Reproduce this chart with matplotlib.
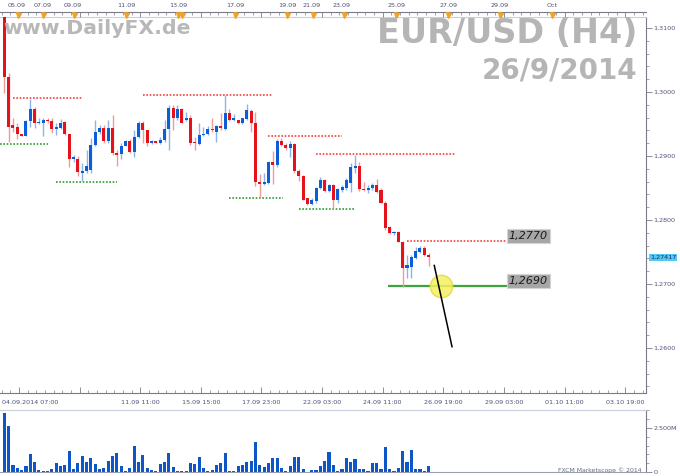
import numpy as np
import matplotlib
matplotlib.use("Agg")
import matplotlib.pyplot as plt

# EUR/USD H4 candles, 04.09.2014 07:00 .. 26.09.2014
opens = [1.3135, 1.3024, 1.2948, 1.2945, 1.2934, 1.2932, 1.2954, 1.2974, 1.2951, 1.2951,
         1.2956, 1.2954, 1.2942, 1.2943, 1.2953, 1.2934, 1.2895, 1.2896, 1.2874, 1.2876,
         1.2878, 1.2917, 1.2938, 1.2943, 1.2923, 1.2943, 1.2905, 1.2903, 1.2916, 1.2924,
         1.2907, 1.2929, 1.2952, 1.2941, 1.2920, 1.2923, 1.2921, 1.2925, 1.2942, 1.2975,
         1.2959, 1.2973, 1.2956, 1.2959, 1.2922, 1.2919, 1.2933, 1.2934, 1.2942, 1.2938,
         1.2947, 1.2942, 1.2967, 1.2956, 1.2956, 1.2951, 1.2958, 1.2971, 1.2952, 1.2860,
         1.2856, 1.2858, 1.2890, 1.2886, 1.2924, 1.2917, 1.2912, 1.2919, 1.2877, 1.2869,
         1.2834, 1.2825, 1.2829, 1.2850, 1.2863, 1.2846, 1.2855, 1.2832, 1.2847, 1.2850,
         1.2858, 1.2882, 1.2884, 1.2849, 1.2847, 1.2850, 1.2855, 1.2847, 1.2827, 1.2789,
         1.2779, 1.2782, 1.2766, 1.2725, 1.2727, 1.2740, 1.2750, 1.2757, 1.2745]
highs = [1.3145, 1.3030, 1.2959, 1.2952, 1.2935, 1.2956, 1.2989, 1.2977, 1.2960, 1.2960,
         1.2959, 1.2959, 1.2951, 1.2958, 1.2954, 1.2934, 1.2901, 1.2900, 1.2889, 1.2909,
         1.2928, 1.2957, 1.2948, 1.2948, 1.2957, 1.2964, 1.2909, 1.2920, 1.2925, 1.2926,
         1.2940, 1.2954, 1.2954, 1.2941, 1.2925, 1.2924, 1.2930, 1.2956, 1.2980, 1.2980,
         1.2980, 1.2975, 1.2969, 1.2964, 1.2929, 1.2952, 1.2946, 1.2947, 1.2960, 1.2948,
         1.2967, 1.2995, 1.2973, 1.2966, 1.2957, 1.2960, 1.2982, 1.2973, 1.2969, 1.2872,
         1.2873, 1.2891, 1.2908, 1.2926, 1.2928, 1.2921, 1.2924, 1.2920, 1.2879, 1.2870,
         1.2835, 1.2834, 1.2851, 1.2867, 1.2864, 1.2857, 1.2856, 1.2850, 1.2855, 1.2865,
         1.2889, 1.2902, 1.2891, 1.2860, 1.2855, 1.2858, 1.2864, 1.2850, 1.2829, 1.2790,
         1.2783, 1.2783, 1.2767, 1.2745, 1.2745, 1.2758, 1.2759, 1.2759, 1.2748]
lows = [1.2998, 1.2922, 1.2938, 1.2926, 1.2931, 1.2931, 1.2945, 1.2944, 1.2950, 1.2931,
        1.2952, 1.2936, 1.2933, 1.2942, 1.2933, 1.2883, 1.2891, 1.2869, 1.2861, 1.2874,
        1.2874, 1.2915, 1.2935, 1.2920, 1.2921, 1.2902, 1.2884, 1.2896, 1.2915, 1.2905,
        1.2898, 1.2928, 1.2921, 1.2916, 1.2919, 1.2920, 1.2919, 1.2922, 1.2909, 1.2941,
        1.2956, 1.2951, 1.2954, 1.2917, 1.2909, 1.2917, 1.2931, 1.2933, 1.2938, 1.2922,
        1.2941, 1.2941, 1.2955, 1.2954, 1.2950, 1.2950, 1.2956, 1.2938, 1.2853, 1.2835,
        1.2855, 1.2857, 1.2857, 1.2883, 1.2916, 1.2910, 1.2899, 1.2873, 1.2861, 1.2831,
        1.2823, 1.2823, 1.2827, 1.2848, 1.2844, 1.2843, 1.2818, 1.2826, 1.2844, 1.2847,
        1.2844, 1.2873, 1.2846, 1.2846, 1.2842, 1.2847, 1.2842, 1.2826, 1.2785, 1.2778,
        1.2777, 1.2765, 1.2696, 1.2709, 1.2710, 1.2739, 1.2749, 1.2744, 1.2728]
closes = [1.3024, 1.2946, 1.2943, 1.2934, 1.2932, 1.2954, 1.2974, 1.2951, 1.2953, 1.2956,
          1.2954, 1.2942, 1.2945, 1.2952, 1.2934, 1.2895, 1.2898, 1.2875, 1.2877, 1.2885,
          1.2917, 1.2938, 1.2943, 1.2923, 1.2943, 1.2905, 1.2902, 1.2916, 1.2924, 1.2907,
          1.2929, 1.2952, 1.2940, 1.2920, 1.2923, 1.2921, 1.2925, 1.2942, 1.2975, 1.2959,
          1.2973, 1.2952, 1.2959, 1.2921, 1.2920, 1.2933, 1.2935, 1.2942, 1.2940, 1.2947,
          1.2943, 1.2967, 1.2956, 1.2959, 1.2951, 1.2959, 1.2972, 1.2952, 1.2860, 1.2856,
          1.2860, 1.2890, 1.2886, 1.2924, 1.2917, 1.2912, 1.2919, 1.2877, 1.2869, 1.2832,
          1.2825, 1.2832, 1.2850, 1.2863, 1.2846, 1.2855, 1.2832, 1.2848, 1.2851, 1.2863,
          1.2883, 1.2884, 1.2848, 1.2847, 1.2850, 1.2855, 1.2844, 1.2827, 1.2787, 1.2779,
          1.2782, 1.2766, 1.2725, 1.2730, 1.2742, 1.2752, 1.2757, 1.2745, 1.27417]
volume_m = [3.33, 2.63, 0.40, 0.25, 0.11, 0.34, 1.00, 0.59, 0.11, 0.03,
            0.08, 0.17, 0.53, 0.34, 0.40, 1.19, 0.17, 0.49, 0.91, 0.59,
            0.78, 0.44, 0.17, 0.25, 0.63, 0.93, 1.10, 0.34, 0.08, 0.25,
            1.48, 0.59, 0.95, 0.21, 0.11, 0.06, 0.44, 0.59, 1.06, 0.30,
            0.03, 0.08, 0.06, 0.49, 0.44, 0.87, 0.21, 0.03, 0.11, 0.40,
            0.49, 1.06, 0.08, 0.06, 0.35, 0.40, 0.55, 0.60, 1.72, 0.40,
            0.27, 0.49, 0.78, 0.78, 0.21, 0.08, 0.34, 0.87, 0.87, 0.15,
            0.02, 0.11, 0.11, 0.34, 0.64, 1.15, 0.40, 0.08, 0.15, 0.78,
            0.59, 0.72, 0.15, 0.15, 0.08, 0.49, 0.49, 0.15, 1.44, 0.15,
            0.08, 0.21, 1.21, 0.59, 1.25, 0.15, 0.15, 0.08, 0.34]
last_price = 1.27417

# drawn support / resistance lines (level, from bar, to bar)
res_levels = [1.2990, 1.2995, 1.2932, 1.2903, 1.2767]
res_from = [2, 32, 61, 72, 93]
res_to = [18.2, 62, 78, 104, 116]
sup_levels = [1.2919, 1.2859, 1.2834, 1.2817]
sup_from = [-1, 12, 52, 68]
sup_to = [10, 26, 64.4, 81]
key_level, key_from, key_to = 1.2697, 88.6, 118.6
box_levels = [1.2767, 1.2697]
box_texts = ["1,2770", "1,2690"]
arrow_x = [99.3, 103.4]
arrow_y = [1.2729, 1.2602]
circle_x, circle_y = 100.8, 1.2697

top_labels = ["05.09", "07.09", "09.09", "11.09", "13.09", "17.09", "19.09",
              "21.09", "23.09", "25.09", "27.09", "29.09", "Oct"]
top_label_pos = [2.9, 8.9, 15.9, 28.1, 40.1, 53.3, 65.3, 71.1, 77.8, 90.5, 102.5, 114.3, 126.5]
event_pos = [3.1, 9.0, 16.1, 28.1, 40.2, 41.0, 53.3, 65.4, 71.4, 78.5, 90.5, 102.4, 114.5, 126.6]
bottom_first = "04.09.2014 07:00"
bottom_labels = ["11.09 11:00", "15.09 15:00", "17.09 23:00", "22.09 03:00", "24.09 11:00",
                 "26.09 19:00", "29.09 03:00", "01.10 11:00", "03.10 19:00"]
major_x = np.arange(3.4, 148, 14)

W, H = 680, 476
xlim = (-0.993, 148.2)
ylim = (1.25297, 1.31172)
axcol = "#7a7a8a"
labcol = "#50507a"


def box(x0, y0, x1, y1):
    return [x0 / W, 1 - y1 / H, (x1 - x0) / W, (y1 - y0) / H]


fig = plt.figure(figsize=(6.8, 4.76), dpi=100)
ax = fig.add_axes(box(0, 17, 646, 393))
ax_top = fig.add_axes(box(0, 0, 646, 12))
ax_vol = fig.add_axes(box(0, 410, 646, 472))

# candles
idx = np.arange(len(opens))
o, h, l, c = map(np.array, (opens, highs, lows, closes))
up = c >= o
body_col = np.where(up, "#0b5ed7", "#e3121b")
wick_col = np.where(up, "#8ab4ea", "#f19a9a")
ax.vlines(idx, l, h, colors=wick_col, lw=1.0, zorder=2)
ax.bar(idx, np.maximum(np.abs(c - o), 0.00008), 0.7, np.minimum(o, c),
       color=body_col, lw=0, zorder=3)

ax.hlines(res_levels, res_from, res_to, colors="#ff3b3b", linestyles=(0, (1, 1)), lw=1.2, zorder=1)
ax.hlines(sup_levels, sup_from, sup_to, colors="#2e9e2e", linestyles=(0, (1, 1)), lw=1.2, zorder=1)
ax.hlines(key_level, key_from, key_to, colors="#3ea33e", lw=1.6, zorder=1)
ax.scatter([circle_x], [circle_y], s=260, c="#f5f060", edgecolors="#e2d840", alpha=0.85, zorder=5)
ax.plot(arrow_x, arrow_y, color="black", lw=1.1, zorder=6)
for lev, txt in zip(box_levels, box_texts):
    ax.text(116.5, lev, txt, ha="left", va="bottom", fontsize=8, style="italic", color="#1a1a1a",
            bbox=dict(boxstyle="square,pad=0.15", fc="#a6a6a6", ec="#d4d4d4", lw=0.8), zorder=7)

ax.set_xlim(xlim)
ax.set_ylim(ylim)
ax.yaxis.tick_right()
yt = np.arange(1.26, 1.3101, 0.01)
ax.set_yticks(yt)
ax.set_yticklabels([f"{v:.4f}".replace(".", ",") for v in yt])
ax.set_yticks(np.arange(1.254, 1.3115, 0.002), minor=True)
ax.tick_params(axis="y", which="major", direction="out", length=4, width=0.6, color=axcol,
               labelsize=4.6, labelcolor=labcol, pad=1.5)
ax.tick_params(axis="y", which="minor", direction="out", length=2, width=0.5, color=axcol)
ax.set_xticks(major_x)
ax.set_xticklabels([])
ax.set_xticks(np.arange(-0.6, 148, 2), minor=True)
ax.tick_params(axis="x", which="major", direction="in", length=4, width=0.6, color=axcol)
ax.tick_params(axis="x", which="minor", direction="in", length=2, width=0.5, color=axcol)
ax.spines["left"].set_visible(False)
ax.spines["top"].set_color("#c8d0dc")
ax.spines["right"].set_color(axcol)
ax.spines["bottom"].set_color(axcol)
xt = ax.get_xaxis_transform()
ax.text(-0.53, -0.024, bottom_first, transform=xt, ha="left", va="center", fontsize=4.6, color=labcol)
for xp, lab in zip(major_x[2:], bottom_labels):
    ax.text(xp, -0.024, lab, transform=xt, ha="center", va="center", fontsize=4.6, color=labcol)
ax.text(1.006, last_price, f"{last_price:.5f}".replace(".", ","), transform=ax.get_yaxis_transform(),
        ha="left", va="center", fontsize=4.6, color="#1a2a50",
        bbox=dict(boxstyle="square,pad=0.2", fc="#55c8f5", ec="none"), clip_on=False)

# top date ruler
ax_top.set_xlim(xlim)
ax_top.set_ylim(0, 1)
ax_top.patch.set_alpha(0)
for s in ["top", "left", "right"]:
    ax_top.spines[s].set_visible(False)
ax_top.spines["bottom"].set_color(axcol)
ax_top.set_yticks([])
ax_top.set_xticks(major_x)
ax_top.set_xticklabels([])
ax_top.set_xticks(np.arange(-0.6, 148, 2), minor=True)
ax_top.tick_params(axis="x", which="major", direction="out", length=3.5, width=0.6, color=axcol)
ax_top.tick_params(axis="x", which="minor", direction="out", length=2, width=0.5, color=axcol)
for xp, lab in zip(top_label_pos, top_labels):
    ax_top.text(xp, 0.55, lab, ha="center", va="center", fontsize=4.6, color=labcol)
ax_top.plot(event_pos, [-0.25] * len(event_pos), marker="v", ls="none", ms=3.6,
            color="#f0a22a", clip_on=False, zorder=5)

# volume panel
ax_vol.bar(idx, volume_m, 0.72, color="#0c56c8", lw=0)
ax_vol.set_xlim(xlim)
ax_vol.set_ylim(0, 3.52)
ax_vol.yaxis.tick_right()
ax_vol.set_yticks([0, 2.5])
ax_vol.set_yticklabels(["0", "2.500M"])
ax_vol.set_yticks(np.arange(0, 3.6, 0.5), minor=True)
ax_vol.set_xticks([])
ax_vol.tick_params(axis="y", which="major", direction="out", length=4, width=0.6, color=axcol,
                   labelsize=4.6, labelcolor=labcol, pad=1.5)
ax_vol.tick_params(axis="y", which="minor", direction="out", length=2, width=0.5, color=axcol)
ax_vol.spines["left"].set_visible(False)
ax_vol.spines["top"].set_color("#c8d0dc")
ax_vol.spines["right"].set_color(axcol)
ax_vol.spines["bottom"].set_color("#9aa0b0")

# watermarks
fig.text(3 / W, 1 - 34 / H, "www.DailyFX.de", fontsize=14.7, weight="bold", color="#b8b8b8",
         va="baseline", ha="left")
fig.text(637 / W, 1 - 43 / H, "EUR/USD (H4)", fontsize=24, weight="bold", color="#b5b5b5",
         va="baseline", ha="right")
fig.text(637 / W, 1 - 78.5 / H, "26/9/2014", fontsize=20, weight="bold", color="#b5b5b5",
         va="baseline", ha="right")
fig.text(641 / W, 1 - 470.5 / H, "FXCM Marketscope © 2014", fontsize=4.4, color="#6a6a7a",
         ha="right", va="center")

fig.savefig("out.png", dpi=100, facecolor="white")
